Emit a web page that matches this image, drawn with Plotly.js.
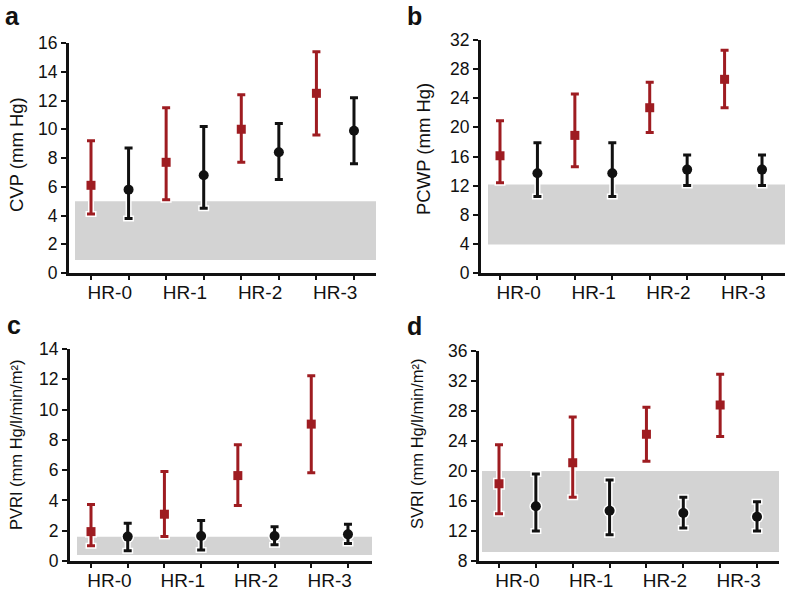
<!DOCTYPE html>
<html>
<head>
<meta charset="utf-8">
<script src="https://cdn.plot.ly/plotly-3.0.1.min.js"></script>
<style>html,body{margin:0;padding:0;background:#fff;}#chart{width:787px;height:591px;}</style>
</head>
<body>
<div id="chart"></div>
<script>
// ---------- DATA ----------
const categories = ['HR-0', 'HR-1', 'HR-2', 'HR-3'];

// a: CVP (mm Hg)
const cvpRedMean   = [6.1, 7.7, 10.0, 12.5];
const cvpRedHigh   = [9.2, 11.5, 12.4, 15.4];
const cvpRedLow    = [4.1, 5.1, 7.7, 9.6];
const cvpBlackMean = [5.8, 6.8, 8.4, 9.9];
const cvpBlackHigh = [8.7, 10.2, 10.4, 12.2];
const cvpBlackLow  = [3.8, 4.5, 6.5, 7.6];
const cvpNormal    = [0.9, 5.0];

// b: PCWP (mm Hg)
const pcwpRedMean   = [16.1, 18.9, 22.7, 26.6];
const pcwpRedHigh   = [20.9, 24.6, 26.2, 30.6];
const pcwpRedLow    = [12.4, 14.6, 19.3, 22.7];
const pcwpBlackMean = [13.7, 13.7, 14.2, 14.2];
const pcwpBlackHigh = [17.9, 17.9, 16.2, 16.2];
const pcwpBlackLow  = [10.5, 10.5, 12.0, 12.0];
const pcwpNormal    = [3.9, 12.15];

// c: PVRI (mm Hg/l/min/m2)
const pvriRedMean   = [1.94, 3.09, 5.64, 9.04];
const pvriRedHigh   = [3.73, 5.91, 7.67, 12.24];
const pvriRedLow    = [1.01, 1.61, 3.66, 5.82];
const pvriBlackMean = [1.61, 1.65, 1.65, 1.76];
const pvriBlackHigh = [2.49, 2.67, 2.27, 2.43];
const pvriBlackLow  = [0.68, 0.73, 1.08, 1.15];
const pvriNormal    = [0.4, 1.6];

// d: SVRI (mm Hg/l/min/m2)
const svriRedMean   = [18.3, 21.1, 24.9, 28.8];
const svriRedHigh   = [23.5, 27.2, 28.5, 32.9];
const svriRedLow    = [14.3, 16.5, 21.3, 24.6];
const svriBlackMean = [15.3, 14.7, 14.4, 13.9];
const svriBlackHigh = [19.6, 18.8, 16.5, 15.9];
const svriBlackLow  = [12.0, 11.5, 12.4, 12.0];
const svriNormal    = [9.2, 20.0];

const panelLetters = ['a', 'b', 'c', 'd'];
const yTitles = ['CVP (mm Hg)', 'PCWP (mm Hg)', 'PVRI (mm Hg/l/min/m²)', 'SVRI (mm Hg/l/min/m²)'];
const yRanges = [[0, 16], [0, 32], [0, 14], [8, 36]];
const yDticks = [2, 4, 2, 4];

// ---------- LAYOUT GEOMETRY (px) ----------
const W = 787, H = 591;
const FONT = 'Liberation Sans, Arial, Helvetica, sans-serif';
const RED = '#9e1c21', BLACK = '#111111', BAND = '#d3d3d3';

const geo = [
  {ax: 69,  x0: 91,  dx: 37.57, right: 376, top: 43,  bottom: 273, bandL: 75,  titleX: 17,  titleY: 155, letterX: 3,   letterY: 0},
  {ax: 481, x0: 500, dx: 37.43, right: 785, top: 40,  bottom: 273, bandL: 488, titleX: 423, titleY: 149, letterX: 405, letterY: 0},
  {ax: 70,  x0: 91,  dx: 36.71, right: 372, top: 349, bottom: 561, bandL: 77,  titleX: 16,  titleY: 445, letterX: 5,   letterY: 309},
  {ax: 479, x0: 499, dx: 36.86, right: 779, top: 351, bottom: 561, bandL: 482, titleX: 417, titleY: 444, letterX: 405, letterY: 310}
];

const panels = [
  {rm: cvpRedMean,  rh: cvpRedHigh,  rl: cvpRedLow,  bm: cvpBlackMean,  bh: cvpBlackHigh,  bl: cvpBlackLow,  band: cvpNormal},
  {rm: pcwpRedMean, rh: pcwpRedHigh, rl: pcwpRedLow, bm: pcwpBlackMean, bh: pcwpBlackHigh, bl: pcwpBlackLow, band: pcwpNormal},
  {rm: pvriRedMean, rh: pvriRedHigh, rl: pvriRedLow, bm: pvriBlackMean, bh: pvriBlackHigh, bl: pvriBlackLow, band: pvriNormal},
  {rm: svriRedMean, rh: svriRedHigh, rl: svriRedLow, bm: svriBlackMean, bh: svriBlackHigh, bl: svriBlackLow, band: svriNormal}
];

const traces = [];
const layout = {
  width: W, height: H,
  margin: {l: 0, r: 0, t: 0, b: 0},
  paper_bgcolor: '#fff', plot_bgcolor: 'rgba(0,0,0,0)',
  showlegend: false,
  font: {family: FONT, color: BLACK},
  shapes: [], annotations: []
};

panels.forEach((p, i) => {
  const g = geo[i];
  const sfx = i === 0 ? '' : String(i + 1);
  const xa = 'x' + sfx, ya = 'y' + sfx;
  const redX = categories.map((_, k) => 2 * k);
  const blackX = categories.map((_, k) => 2 * k + 1);

  const series = [
    {x: redX,   m: p.rm, h: p.rh, l: p.rl, color: RED,   symbol: 'square', size: 9},
    {x: blackX, m: p.bm, h: p.bh, l: p.bl, color: BLACK, symbol: 'circle', size: 10}
  ];
  // white halos under the bars
  series.forEach(s => {
    traces.push({
      type: 'scatter', mode: 'markers', xaxis: xa, yaxis: ya, hoverinfo: 'skip',
      x: s.x, y: s.m,
      marker: {color: '#ffffff', symbol: s.symbol, size: s.size + 3},
      error_y: {type: 'data', symmetric: false,
        array: s.m.map((v, k) => s.h[k] - v), arrayminus: s.m.map((v, k) => v - s.l[k]),
        color: '#ffffff', thickness: 6, width: 5.5}
    });
  });
  series.forEach(s => {
    traces.push({
      type: 'scatter', mode: 'markers', xaxis: xa, yaxis: ya,
      x: s.x, y: s.m,
      marker: {color: s.color, symbol: s.symbol, size: s.size},
      error_y: {type: 'data', symmetric: false,
        array: s.m.map((v, k) => s.h[k] - v), arrayminus: s.m.map((v, k) => v - s.l[k]),
        color: s.color, thickness: 3, width: 4}
    });
  });

  const xr = [(g.ax - g.x0) / g.dx, (g.right - g.x0) / g.dx];
  layout['xaxis' + sfx] = {
    domain: [g.ax / W, g.right / W], range: xr, anchor: ya,
    showline: true, linewidth: 3, linecolor: BLACK,
    showgrid: false, zeroline: false, fixedrange: true,
    tickmode: 'array', tickvals: categories.map((_, k) => 2 * k + 0.5), ticktext: categories,
    ticks: '', tickfont: {size: 19, family: FONT, color: BLACK},
    minor: {tickmode: 'array', tickvals: categories.flatMap((_, k) => [2 * k, 2 * k + 1]),
      ticks: 'outside', ticklen: 4, tickwidth: 2, tickcolor: BLACK, showgrid: false}
  };
  layout['yaxis' + sfx] = {
    domain: [1 - g.bottom / H, 1 - g.top / H], range: yRanges[i], anchor: xa,
    showline: true, linewidth: 3, linecolor: BLACK,
    showgrid: false, zeroline: false, fixedrange: true,
    tick0: yRanges[i][0], dtick: yDticks[i],
    ticks: 'outside', ticklen: 5, tickwidth: 2, tickcolor: BLACK,
    tickfont: {size: 17.5, family: FONT, color: BLACK}
  };
  layout.shapes.push({
    type: 'rect', xref: xa, yref: ya, layer: 'below',
    x0: (g.bandL - g.x0) / g.dx, x1: xr[1], y0: p.band[0], y1: p.band[1],
    fillcolor: BAND, line: {width: 0}
  });
  layout.annotations.push({
    xref: 'paper', yref: 'paper', x: g.titleX / W, y: 1 - g.titleY / H,
    xanchor: 'center', yanchor: 'middle', textangle: -90, showarrow: false,
    text: yTitles[i], font: {size: i < 2 ? 18.5 : 16.5, family: FONT, color: BLACK}
  });
  layout.annotations.push({
    xref: 'paper', yref: 'paper', x: g.letterX / W, y: 1 - g.letterY / H,
    xanchor: 'left', yanchor: 'top', showarrow: false,
    text: panelLetters[i], font: {size: 25, family: FONT, color: BLACK, weight: 'bold'}
  });
});

Plotly.newPlot('chart', traces, layout, {displayModeBar: false, staticPlot: true});
</script>
</body>
</html>
